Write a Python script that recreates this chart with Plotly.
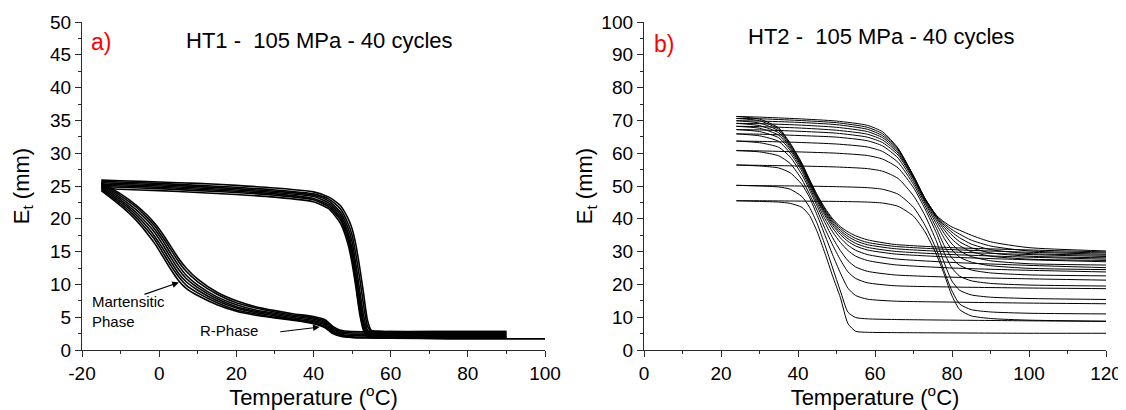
import plotly.graph_objects as go

# ---------------- Panel a) HT1 - 105 MPa - 40 cycles ----------------
ht1_heat_T = [-15, -10, 0, 10, 20, 30, 40, 44, 47, 49, 50, 51, 52, 53, 54, 55, 57, 60, 75, 90]
ht1_heat_T_last = [-15, -10, 0, 10, 20, 30, 40, 44, 47, 49, 50, 51, 52, 53, 54, 55, 57, 60, 75, 90, 100]
ht1_cool_T = [90, 75, 60, 50, 47, 45, 43, 40, 35, 30, 25, 20, 15, 10, 7, 5, 3, 1, -1, -3, -6, -10, -15]

ht1_heat_A = [25.9, 25.8, 25.6, 25.4, 25.1, 24.7, 24.1, 23.3, 22.0, 20.0, 18.5, 16.0, 12.5, 8.5, 4.5, 3.0, 2.9, 2.8, 2.8, 2.8]
ht1_heat_B = [25.7, 25.6, 25.4, 25.1, 24.8, 24.4, 23.8, 23.0, 21.5, 19.2, 17.5, 14.5, 10.8, 6.8, 3.6, 2.8, 2.7, 2.7, 2.6, 2.6]
ht1_heat_C = [25.5, 25.4, 25.2, 24.9, 24.6, 24.2, 23.6, 22.7, 21.0, 18.5, 16.5, 13.0, 9.0, 5.2, 3.0, 2.6, 2.5, 2.5, 2.4, 2.4]
ht1_heat_D = [25.3, 25.2, 25.0, 24.7, 24.4, 24.0, 23.4, 22.4, 20.6, 17.8, 15.5, 11.8, 7.8, 4.2, 2.7, 2.4, 2.3, 2.3, 2.2, 2.2]
ht1_heat_E = [25.1, 25.0, 24.8, 24.5, 24.2, 23.8, 23.1, 22.1, 20.2, 17.2, 14.8, 11.0, 6.8, 3.6, 2.4, 2.2, 2.1, 2.1, 2.0, 2.0]
ht1_heat_F = [24.9, 24.8, 24.6, 24.3, 24.0, 23.6, 22.9, 21.8, 19.8, 16.6, 14.0, 10.2, 6.0, 3.2, 2.2, 2.0, 1.9, 1.9, 1.9, 1.9]
ht1_heat_G = [24.7, 24.5, 24.3, 24.0, 23.7, 23.3, 22.6, 21.5, 19.3, 16.0, 13.2, 9.5, 5.4, 2.9, 2.0, 1.9, 1.8, 1.8, 1.7, 1.7, 1.7]

ht1_cool_A = [2.8, 2.8, 2.8, 2.8, 3.0, 3.6, 4.6, 5.1, 5.5, 6.0, 6.6, 7.5, 8.8, 10.8, 12.5, 14.0, 15.8, 17.6, 19.2, 20.5, 22.1, 23.8, 25.5]
ht1_cool_B = [2.6, 2.6, 2.6, 2.6, 2.8, 3.4, 4.4, 4.9, 5.3, 5.8, 6.4, 7.2, 8.5, 10.4, 12.0, 13.5, 15.3, 17.1, 18.8, 20.1, 21.8, 23.5, 25.3]
ht1_cool_C = [2.4, 2.4, 2.4, 2.4, 2.6, 3.2, 4.2, 4.7, 5.1, 5.6, 6.1, 6.9, 8.1, 9.9, 11.4, 12.9, 14.7, 16.6, 18.3, 19.7, 21.4, 23.2, 25.1]
ht1_cool_D = [2.2, 2.2, 2.2, 2.2, 2.4, 3.0, 4.0, 4.5, 4.9, 5.4, 5.9, 6.6, 7.8, 9.5, 10.9, 12.3, 14.1, 16.0, 17.8, 19.2, 21.0, 22.9, 24.9]
ht1_cool_E = [2.0, 2.0, 2.0, 2.0, 2.3, 2.8, 3.8, 4.3, 4.7, 5.2, 5.7, 6.4, 7.5, 9.1, 10.4, 11.7, 13.5, 15.4, 17.2, 18.7, 20.6, 22.6, 24.7]
ht1_cool_F = [1.9, 1.9, 1.9, 1.9, 2.2, 2.6, 3.6, 4.1, 4.6, 5.0, 5.5, 6.1, 7.2, 8.7, 9.9, 11.2, 12.9, 14.8, 16.7, 18.2, 20.2, 22.3, 24.5]
ht1_cool_G = [1.8, 1.8, 1.8, 1.9, 2.1, 2.5, 3.4, 4.0, 4.5, 4.9, 5.3, 5.9, 6.9, 8.3, 9.4, 10.6, 12.3, 14.2, 16.1, 17.7, 19.8, 22.0, 24.3]

# ---------------- Panel b) HT2 - 105 MPa - 40 cycles ----------------
ht2_cool_T = [120, 100, 80, 65, 58, 55, 53, 51, 49, 47, 45, 43, 41, 38, 35, 30, 24]
ht2_heat_T = [24, 30, 40, 50, 58, 62, 66, 70, 73, 76, 78, 80, 82, 85, 90, 100, 120]

ht2_cool_01 = [5.1, 5.1, 5.2, 5.3, 5.4, 5.7, 8.0, 16.0, 22.5, 29.5, 36.0, 41.0, 43.5, 44.7, 45.1, 45.3, 45.5]
ht2_cool_02 = [8.7, 8.9, 9.1, 9.3, 9.5, 9.9, 11.5, 18.0, 25.0, 32.0, 38.5, 43.5, 46.8, 49.0, 49.7, 50.0, 50.2]
ht2_cool_03 = [14.1, 14.3, 14.6, 14.9, 15.5, 16.6, 18.8, 23.5, 29.0, 35.0, 41.0, 46.5, 50.5, 54.0, 55.5, 56.1, 56.4]
ht2_cool_04 = [18.7, 18.9, 19.2, 19.6, 20.5, 21.8, 23.8, 27.5, 32.0, 37.0, 42.5, 47.5, 52.0, 56.8, 59.2, 60.4, 60.8]
ht2_cool_05 = [21.3, 21.7, 22.2, 22.9, 24.0, 25.3, 27.2, 30.3, 34.2, 38.8, 43.8, 48.8, 53.5, 58.8, 61.8, 63.2, 63.7]
ht2_cool_06 = [23.8, 24.3, 25.0, 26.0, 27.3, 28.6, 30.3, 32.8, 36.0, 40.0, 44.7, 49.6, 54.5, 60.0, 63.6, 65.3, 65.9]
ht2_cool_07 = [25.1, 25.8, 26.7, 27.8, 29.1, 30.4, 31.9, 34.2, 37.2, 41.0, 45.5, 50.3, 55.2, 60.8, 64.7, 66.6, 67.2]
ht2_cool_08 = [26.9, 27.5, 28.3, 29.3, 30.5, 31.7, 33.1, 35.2, 38.0, 41.6, 46.0, 50.8, 55.7, 61.4, 65.5, 67.6, 68.2]
ht2_cool_09 = [27.7, 28.3, 29.1, 30.1, 31.3, 32.5, 33.9, 35.9, 38.6, 42.1, 46.4, 51.2, 56.1, 61.9, 66.2, 68.4, 69.1]
ht2_cool_10 = [28.5, 29.1, 29.9, 30.9, 32.1, 33.3, 34.6, 36.5, 39.1, 42.5, 46.7, 51.5, 56.4, 62.3, 66.8, 69.2, 69.9]
ht2_cool_11 = [29.2, 29.8, 30.6, 31.6, 32.8, 34.0, 35.3, 37.1, 39.6, 42.9, 47.0, 51.8, 56.7, 62.7, 67.3, 69.9, 70.6]
ht2_cool_12 = [29.9, 30.5, 31.2, 32.2, 33.6, 34.8, 36.0, 37.6, 40.0, 43.3, 47.3, 52.0, 57.0, 63.0, 67.7, 70.4, 71.2]

ht2_heat_01 = [45.5, 45.5, 45.4, 45.3, 45.1, 44.8, 43.8, 40.8, 36.0, 29.0, 23.0, 16.5, 12.3, 10.4, 9.6, 9.1, 8.8]
ht2_heat_02 = [50.2, 50.1, 50.0, 49.8, 49.5, 49.0, 47.5, 43.5, 38.0, 30.5, 24.0, 18.0, 14.0, 12.3, 11.6, 11.2, 11.0]
ht2_heat_03 = [56.4, 56.3, 56.1, 55.8, 55.3, 54.5, 52.3, 47.0, 41.0, 33.0, 26.5, 21.0, 18.2, 16.8, 16.1, 15.7, 15.4]
ht2_heat_04 = [60.8, 60.7, 60.4, 60.0, 59.3, 58.2, 55.5, 49.5, 43.0, 35.5, 29.5, 25.0, 22.5, 21.1, 20.3, 19.8, 19.5]
ht2_heat_05 = [63.7, 63.6, 63.3, 62.8, 61.9, 60.5, 57.2, 50.5, 44.0, 37.0, 31.8, 28.0, 25.8, 24.4, 23.5, 22.9, 22.6]
ht2_heat_06 = [65.9, 65.8, 65.4, 64.9, 63.8, 62.2, 58.5, 51.3, 44.8, 38.3, 34.0, 30.5, 28.3, 26.8, 25.7, 24.9, 24.5]
ht2_heat_07 = [67.2, 67.1, 66.7, 66.1, 64.9, 63.2, 59.4, 52.0, 45.3, 39.3, 35.5, 32.3, 30.2, 28.5, 27.2, 26.3, 25.9]
ht2_heat_08 = [68.2, 68.1, 67.7, 67.0, 65.8, 64.0, 60.0, 52.4, 45.7, 40.0, 36.6, 33.8, 31.8, 30.0, 28.6, 27.7, 27.3]
ht2_heat_09 = [69.1, 69.0, 68.6, 67.9, 66.6, 64.7, 60.5, 52.8, 46.0, 40.4, 37.4, 35.0, 33.0, 31.2, 29.6, 28.6, 28.1]
ht2_heat_10 = [69.9, 69.8, 69.4, 68.7, 67.3, 65.3, 61.0, 53.0, 46.2, 40.7, 38.0, 35.9, 34.2, 32.3, 30.6, 29.4, 28.9]
ht2_heat_11 = [70.6, 70.5, 70.0, 69.3, 67.9, 65.9, 61.3, 53.1, 46.2, 40.9, 38.5, 36.7, 35.3, 33.5, 31.7, 30.2, 29.6]
ht2_heat_12 = [71.2, 71.0, 70.5, 69.8, 68.5, 66.5, 61.5, 53.0, 46.0, 41.0, 39.0, 37.5, 36.5, 35.0, 33.0, 31.2, 30.2]

# Axis ranges and tick labels
ht1_x_range = [-20, 100]
ht1_y_range = [0, 50]
ht2_x_range = [0, 120]
ht2_y_range = [0, 100]
ht1_x_ticks = [-20, 0, 20, 40, 60, 80, 100]
ht1_x_ticktext = ["-20", "0", "20", "40", "60", "80", "100"]

FONT = "Liberation Sans, Arial, sans-serif"
LINE = "#2a2a2a"

fig = go.Figure()

ht1_heat = [ht1_heat_A, ht1_heat_B, ht1_heat_C, ht1_heat_D, ht1_heat_E, ht1_heat_F, ht1_heat_G]
ht1_cool = [ht1_cool_A, ht1_cool_B, ht1_cool_C, ht1_cool_D, ht1_cool_E, ht1_cool_F, ht1_cool_G]
for h, c in zip(ht1_heat, ht1_cool):
    hT = ht1_heat_T_last if len(h) == len(ht1_heat_T_last) else ht1_heat_T
    fig.add_trace(go.Scatter(x=hT, y=h, mode="lines", xaxis="x", yaxis="y",
                             line=dict(color="black", width=1.6, shape="spline", smoothing=0.6),
                             showlegend=False, hoverinfo="skip"))
    fig.add_trace(go.Scatter(x=ht1_cool_T, y=c, mode="lines", xaxis="x", yaxis="y",
                             line=dict(color="black", width=1.6, shape="spline", smoothing=0.6),
                             showlegend=False, hoverinfo="skip"))

ht2_cool = [ht2_cool_01, ht2_cool_02, ht2_cool_03, ht2_cool_04, ht2_cool_05, ht2_cool_06,
            ht2_cool_07, ht2_cool_08, ht2_cool_09, ht2_cool_10, ht2_cool_11, ht2_cool_12]
ht2_heat = [ht2_heat_01, ht2_heat_02, ht2_heat_03, ht2_heat_04, ht2_heat_05, ht2_heat_06,
            ht2_heat_07, ht2_heat_08, ht2_heat_09, ht2_heat_10, ht2_heat_11, ht2_heat_12]
for c, h in zip(ht2_cool, ht2_heat):
    fig.add_trace(go.Scatter(x=ht2_cool_T + ht2_heat_T, y=c + h, mode="lines", xaxis="x2", yaxis="y2",
                             line=dict(color="black", width=1.0, shape="spline", smoothing=0.6),
                             showlegend=False, hoverinfo="skip"))


def base_axis(rng, dtick, minor, title, standoff, domain=None, anchor=None):
    d = dict(range=rng, dtick=dtick, tick0=rng[0], showline=True, linecolor=LINE, linewidth=1.3,
             ticks="outside", ticklen=6, tickwidth=1.3, tickcolor=LINE, automargin=False,
             minor=dict(dtick=minor, ticks="outside", ticklen=3, tickwidth=1.1, tickcolor=LINE),
             showgrid=False, zeroline=False, mirror=False,
             tickfont=dict(family=FONT, size=19, color="black"),
             title=dict(text=title, font=dict(family=FONT, size=22, color="black"), standoff=standoff))
    if domain is not None:
        d["domain"] = domain
    if anchor is not None:
        d["anchor"] = anchor
    return d


def mirror_axis(rng, dtick, minor, overlay, side, anchor):
    return dict(range=rng, dtick=dtick, tick0=rng[0], overlaying=overlay, side=side, anchor=anchor,
                showline=True, linecolor=LINE, linewidth=1.3, ticks="inside", ticklen=6, tickwidth=1.3,
                tickcolor=LINE, automargin=False,
                minor=dict(dtick=minor, ticks="inside", ticklen=3, tickwidth=1.1, tickcolor=LINE),
                showticklabels=False, showgrid=False, zeroline=False)


# The page places the figure 8 px in from the top-left corner, so the figure is sized to end at the window edge.
dom1 = [0, 463 / 1024]
dom2 = [562 / 1024, 1]

xa1 = base_axis(ht1_x_range, 20, 10, "Temperature (<sup>o</sup>C)", 3, dom1, "y")
xa1.update(tickmode="array", tickvals=ht1_x_ticks, ticktext=ht1_x_ticktext)

fig.update_layout(
    template="none",
    width=1118, height=402,
    margin=dict(l=74, r=20, t=14, b=60),
    paper_bgcolor="white", plot_bgcolor="white",
    font=dict(family=FONT, color="black"),
    xaxis=xa1,
    yaxis=base_axis(ht1_y_range, 5, 2.5, "E<sub>t</sub> (mm)", 14, None, "x"),
    xaxis2=base_axis(ht2_x_range, 20, 10, "Temperature (<sup>o</sup>C)", 3, dom2, "y2"),
    yaxis2=base_axis(ht2_y_range, 10, 5, "E<sub>t</sub> (mm)", 2, None, "x2"),
    xaxis3=mirror_axis(ht1_x_range, 20, 10, "x", "top", "y"),
    yaxis3=mirror_axis(ht1_y_range, 5, 2.5, "y", "right", "x"),
    xaxis4=mirror_axis(ht2_x_range, 20, 10, "x2", "top", "y2"),
    yaxis4=mirror_axis(ht2_y_range, 10, 5, "y2", "right", "x2"),
)

ann = []
ann.append(dict(text="a)", xref="x domain", yref="y domain", x=0.015, y=0.939, xanchor="left", yanchor="middle",
                showarrow=False, font=dict(family=FONT, size=23, color="red")))
ann.append(dict(text="HT1 -  105 MPa - 40 cycles", xref="x domain", yref="y domain", x=0.514, y=0.945,
                xanchor="center", yanchor="middle", showarrow=False, font=dict(family=FONT, size=22, color="black")))
ann.append(dict(text="b)", xref="x2 domain", yref="y2 domain", x=0.018, y=0.933, xanchor="left", yanchor="middle",
                showarrow=False, font=dict(family=FONT, size=23, color="red")))
ann.append(dict(text="HT2 -  105 MPa - 40 cycles", xref="x2 domain", yref="y2 domain", x=0.513, y=0.957,
                xanchor="center", yanchor="middle", showarrow=False, font=dict(family=FONT, size=22, color="black")))
ann.append(dict(text="Martensitic<br>Phase", xref="x", yref="y", x=-17.8, y=5.85, xanchor="left", yanchor="middle",
                align="left", showarrow=False, font=dict(family=FONT, size=15, color="black")))
ann.append(dict(text="", xref="x", yref="y", x=5.1, y=10.3, axref="x", ayref="y", ax=-4.2, ay=8.4,
                showarrow=True, arrowhead=2, arrowsize=1.2, arrowwidth=1.1, arrowcolor="black"))
ann.append(dict(text="R-Phase", xref="x", yref="y", x=10.0, y=2.95, xanchor="left", yanchor="middle",
                showarrow=False, font=dict(family=FONT, size=15, color="black")))
ann.append(dict(text="", xref="x", yref="y", x=41.6, y=3.5, axref="x", ayref="y", ax=31.0, ay=2.75,
                showarrow=True, arrowhead=2, arrowsize=1.2, arrowwidth=1.1, arrowcolor="black"))
fig.update_layout(annotations=ann)

fig.write_html("out.html")
